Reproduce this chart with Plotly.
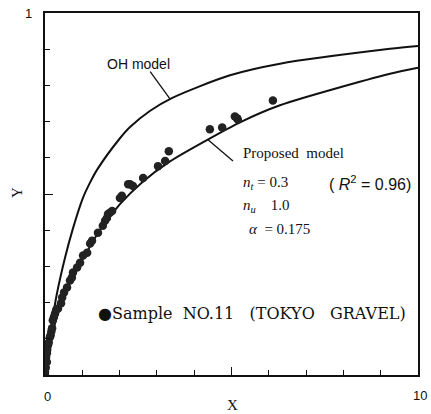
import plotly.graph_objects as go

# Measured samples (Sample NO.11, Tokyo gravel)
sample_x = [0.0, 0.0, 0.02, 0.03, 0.05, 0.05, 0.06, 0.08, 0.10, 0.13, 0.15, 0.17, 0.19, 0.21, 0.24,
            0.27, 0.30, 0.35, 0.43, 0.46, 0.51, 0.59, 0.67, 0.72, 0.75, 0.86, 0.94, 1.02, 1.13,
            1.21, 1.26, 1.42, 1.55, 1.61, 1.66, 1.69, 1.74, 1.80, 2.01, 2.06, 2.23, 2.28, 2.36,
            2.63, 3.03, 3.22, 3.32, 4.42, 4.75, 5.09, 5.15, 5.17, 6.11]
sample_y = [0.0, 0.008, 0.02, 0.05, 0.036, 0.06, 0.07, 0.082, 0.09, 0.104, 0.11, 0.12, 0.129, 0.151, 0.16,
            0.170, 0.18, 0.184, 0.198, 0.214, 0.228, 0.242, 0.261, 0.269, 0.283, 0.297, 0.310, 0.330, 0.338,
            0.363, 0.371, 0.393, 0.412, 0.426, 0.434, 0.445, 0.448, 0.453, 0.489, 0.495, 0.527, 0.527, 0.522,
            0.544, 0.577, 0.591, 0.618, 0.679, 0.684, 0.714, 0.709, 0.706, 0.758]

# OH model curve
oh_x = [0.0, 0.05, 0.10, 0.21, 0.32, 0.54, 0.75, 1.02, 1.21, 1.39, 2.01, 2.28, 2.82, 3.40, 4.96,
        6.30, 9.25, 10.0]
oh_y = [0.0, 0.045, 0.086, 0.16, 0.225, 0.325, 0.405, 0.49, 0.532, 0.566, 0.654, 0.685, 0.730, 0.765,
        0.828, 0.860, 0.901, 0.909]

# Proposed model curve
pm_x = [0.0, 0.13, 0.27, 0.49, 0.75, 1.12, 1.47, 2.01, 2.60, 3.35, 4.34, 5.23, 6.30, 9.25, 10.0]
pm_y = [0.0, 0.077, 0.143, 0.214, 0.272, 0.34, 0.40, 0.472, 0.532, 0.59, 0.649, 0.698, 0.745, 0.832, 0.849]

x_tick_vals = [0, 5, 10]
y_tick_vals = [0.5, 1.0]

INK = "#111111"
SERIF = "Liberation Serif, Times New Roman, serif"
WIDE_SERIF = "DejaVu Serif, serif"
SANS = "Liberation Sans, Arial, sans-serif"

fig = go.Figure()

curve_line = dict(color=INK, width=2, shape="spline", smoothing=0.8)
fig.add_trace(go.Scatter(x=oh_x, y=oh_y, mode="lines", line=curve_line,
                         showlegend=False, hoverinfo="skip"))
fig.add_trace(go.Scatter(x=pm_x, y=pm_y, mode="lines", line=curve_line,
                         showlegend=False, hoverinfo="skip"))
fig.add_trace(go.Scatter(x=sample_x, y=sample_y, mode="markers",
                         marker=dict(color="#222222", size=8.5, line=dict(width=0)),
                         showlegend=False))

# leader lines from labels to curves
fig.add_shape(type="line", x0=2.82, y0=0.838, x1=3.35, y1=0.763,
              line=dict(color=INK, width=1.3))
fig.add_shape(type="line", x0=4.37, y0=0.650, x1=5.04, y1=0.591,
              line=dict(color=INK, width=1.3))

ann = []
ann.append(dict(x=1.61, y=0.86, text="OH model", xanchor="left", yanchor="middle",
                font=dict(family=SANS, size=14, color=INK)))
ann.append(dict(x=5.25, y=0.613, text="Proposed  model", xanchor="left", yanchor="middle",
                font=dict(family=SERIF, size=15, color=INK)))
ann.append(dict(x=5.25, y=0.530, text="<i>n</i><sub><i>t</i></sub> = 0.3", xanchor="left",
                yanchor="middle", font=dict(family=SERIF, size=15, color=INK)))
ann.append(dict(x=7.56, y=0.530, text="( <i>R</i><sup>2</sup> = 0.96)", xanchor="left",
                yanchor="middle", font=dict(family=SANS, size=16, color=INK)))
ann.append(dict(x=5.25, y=0.467, text="<i>n</i><sub><i>u</i></sub>    1.0", xanchor="left",
                yanchor="middle", font=dict(family=SERIF, size=15, color=INK)))
ann.append(dict(x=5.42, y=0.404, text="<i>α</i>  = 0.175", xanchor="left",
                yanchor="middle", font=dict(family=SERIF, size=15, color=INK)))
ann.append(dict(x=1.37, y=0.170,
                text="<span style='font-size:16px'>●</span>Sample  NO.11   (TOKYO   GRAVEL)",
                xanchor="left", yanchor="middle", font=dict(family=WIDE_SERIF, size=16, color=INK)))
# axis titles
ann.append(dict(x=5.04, y=-0.082, yref="paper", text="X", xanchor="center", yanchor="middle",
                font=dict(family=SERIF, size=15, color=INK)))
ann.append(dict(x=-0.075, xref="paper", y=0.503, text="Y", xanchor="center", yanchor="middle",
                textangle=-90, font=dict(family=SERIF, size=15, color=INK)))
# end tick labels
ann.append(dict(x=0.008, xref="paper", y=-0.06, yref="paper", text="0", xanchor="center",
                yanchor="middle", font=dict(family=SANS, size=13, color=INK)))
ann.append(dict(x=1.005, xref="paper", y=-0.058, yref="paper", text="10", xanchor="center",
                yanchor="middle", font=dict(family=SANS, size=13, color=INK)))
ann.append(dict(x=-0.045, xref="paper", y=1.0, yref="paper", text="1", xanchor="center",
                yanchor="middle", font=dict(family=SANS, size=13, color=INK)))
for a in ann:
    a.setdefault("xref", "x")
    a.setdefault("yref", "y")
    a["showarrow"] = False
fig.update_layout(annotations=ann)

fig.update_xaxes(range=[0, 10], showline=True, linecolor=INK, linewidth=1.5, mirror=True,
                 showgrid=False, zeroline=False, ticks="inside", ticklen=8, tickwidth=1.2,
                 tickcolor=INK, tickvals=x_tick_vals, showticklabels=False,
                 minor=dict(dtick=1, ticks="inside", ticklen=5, tickwidth=1.2, tickcolor=INK,
                            showgrid=False))
fig.update_yaxes(range=[0, 1], showline=True, linecolor=INK, linewidth=1.5, mirror=True,
                 showgrid=False, zeroline=False, ticks="inside", ticklen=8, tickwidth=1.2,
                 tickcolor=INK, tickvals=y_tick_vals, showticklabels=False,
                 minor=dict(dtick=0.1, ticks="inside", ticklen=5, tickwidth=1.2, tickcolor=INK,
                            showgrid=False))

fig.update_layout(width=431, height=414, margin=dict(l=45, r=13, t=11, b=39),
                  plot_bgcolor="white", paper_bgcolor="white", showlegend=False)

fig.write_html("out.html")
